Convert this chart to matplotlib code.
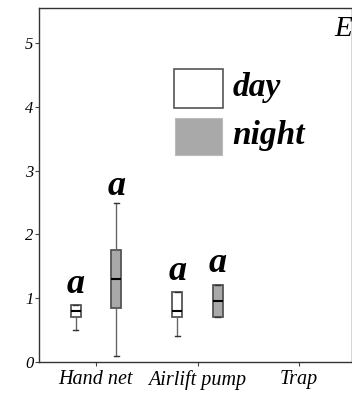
import matplotlib
matplotlib.use("Agg")
import matplotlib.pyplot as plt
from matplotlib.patches import Rectangle

plt.rcParams["font.family"] = ["Liberation Serif", "DejaVu Serif"]

methods = ["Hand net", "Airlift pump", "Trap"]
# five-number summaries: low, q1, median, q3, high
day_stats = [(0.5, 0.7, 0.8, 0.9, 0.9), (0.4, 0.7, 0.8, 1.1, 1.1), None]
night_stats = [(0.1, 0.85, 1.3, 1.75, 2.5), (0.7, 0.7, 0.95, 1.2, 1.2), None]
day_letters = ["a", "a", None]
night_letters = ["a", "a", None]
day_letter_y = [1.22, 1.42]
night_letter_y = [2.75, 1.55]

fig = plt.figure(figsize=(3.52, 3.95), dpi=100)
ax = fig.add_axes([0.111, 0.0835, 0.889, 0.8965])


def to_bxp(s, label):
    return dict(whislo=s[0], q1=s[1], med=s[2], q3=s[3], whishi=s[4], fliers=[], label=label)


off = 0.2
for i, (sd, sn) in enumerate(zip(day_stats, night_stats)):
    pos = i + 1
    for s, dx, fc in ((sd, -off, "white"), (sn, off, "#a9a9a9")):
        if s is None:
            continue
        ax.bxp([to_bxp(s, "")], positions=[pos + dx], widths=0.1, patch_artist=True,
               showfliers=False,
               boxprops=dict(facecolor=fc, edgecolor="#555555", linewidth=1.3),
               medianprops=dict(color="black", linewidth=1.5),
               whiskerprops=dict(color="#666666", linewidth=1.0),
               capprops=dict(color="#333333", linewidth=1.0),
               capwidths=0.05, manage_ticks=False)

for i, l in enumerate(day_letters):
    if l:
        ax.text(i + 1 - off, day_letter_y[i], l, ha="center", va="center",
                fontsize=26, fontweight="bold", fontstyle="italic")
for i, l in enumerate(night_letters):
    if l:
        ax.text(i + 1 + off, night_letter_y[i], l, ha="center", va="center",
                fontsize=26, fontweight="bold", fontstyle="italic")

ax.set_xlim(0.44, 3.52)
ax.set_ylim(0, 5.55)
ax.set_xticks([1, 2, 3])
ax.set_xticklabels(methods, fontstyle="italic", fontsize=14.5)
ax.set_yticks([0, 1, 2, 3, 4, 5])
ax.set_yticklabels(["0", "1", "2", "3", "4", "5"], fontstyle="italic", fontsize=12)
ax.tick_params(axis="both", length=3, width=0.8, color="#444444", pad=1)
ax.tick_params(axis="x", pad=3)
for sp in ax.spines.values():
    sp.set_color("#333333")
    sp.set_linewidth(1.0)

# legend drawn by hand to match the big swatches
ax.add_patch(Rectangle((0.431, 0.7175), 0.157, 0.11, transform=ax.transAxes,
                       facecolor="white", edgecolor="#555555", linewidth=1.2))
ax.add_patch(Rectangle((0.434, 0.585), 0.15, 0.104, transform=ax.transAxes,
                       facecolor="#a9a9a9", edgecolor="#bbbbbb", linewidth=0.8))
ax.text(0.617, 0.774, "day", transform=ax.transAxes, va="center", ha="left",
        fontsize=24, fontweight="bold", fontstyle="italic")
ax.text(0.617, 0.641, "night", transform=ax.transAxes, va="center", ha="left",
        fontsize=24, fontweight="bold", fontstyle="italic")
ax.text(1.0, 0.94, "E", transform=ax.transAxes, va="center", ha="right",
        fontsize=21, fontstyle="italic")

fig.savefig("out.png", dpi=100)
